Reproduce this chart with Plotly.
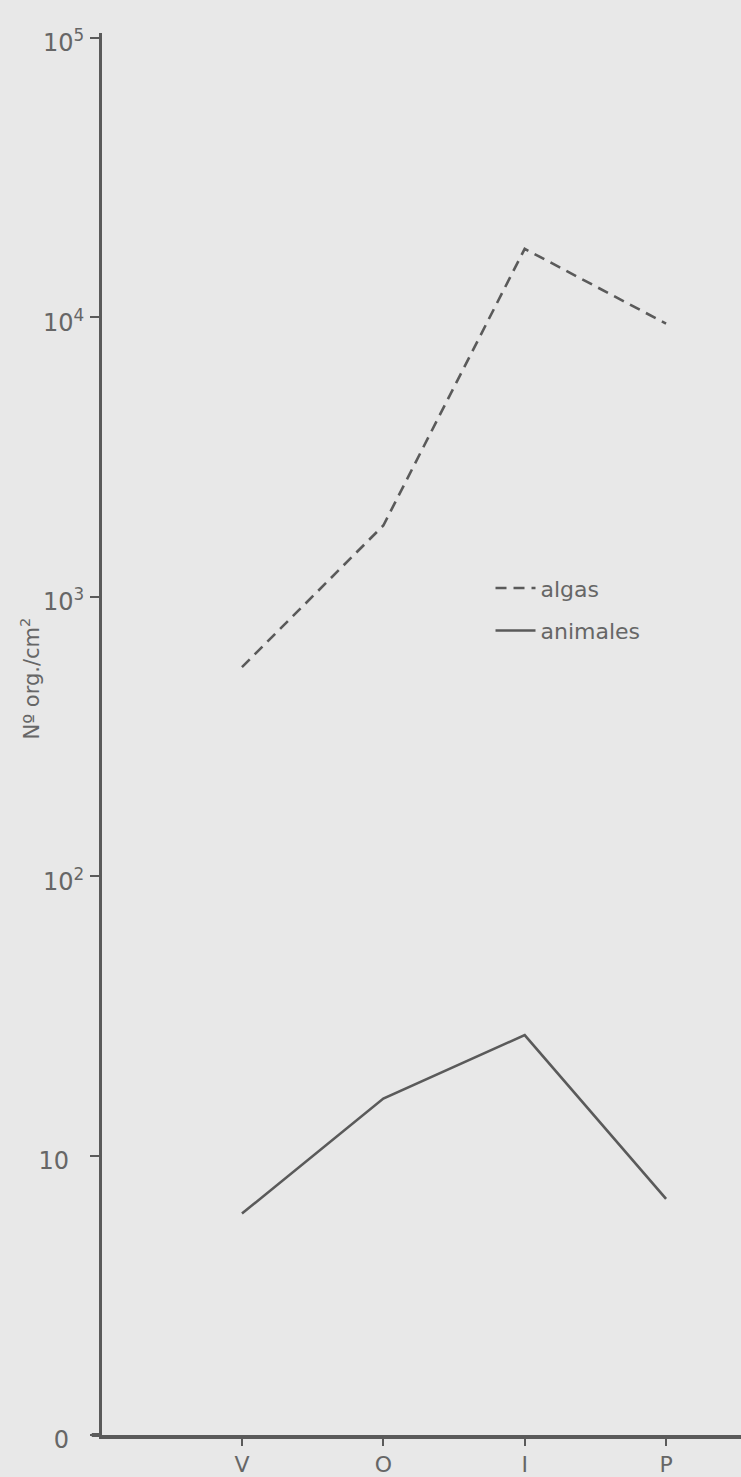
import plotly.graph_objects as go

categories = ["V", "O", "I", "P"]
x_pos = [0, 1, 2, 3]
algas = [560, 1800, 17600, 9500]
animales = [6.2, 16, 27, 7.0]

y_tickvals = [1, 10, 100, 1000, 10000, 100000]
y_ticktext = ["0\u00a0\u00a0", "10\u00a0\u00a0", "10<sup>2</sup>", "10<sup>3</sup>", "10<sup>4</sup>", "10<sup>5</sup>"]

ink = "#5a5a5a"
txt = "#666666"
bg = "#e8e8e8"
font_family = "DejaVu Sans, Lato, sans-serif"

fig = go.Figure()
fig.add_trace(go.Scatter(
    x=x_pos, y=algas, mode="lines", name="algas", legendgroup="g1",
    line=dict(color=ink, width=2.6, dash="11px,7px"),
))
fig.add_trace(go.Scatter(
    x=x_pos, y=animales, mode="lines", name="animales", legendgroup="g2",
    line=dict(color=ink, width=2.6),
))

fig.update_layout(
    width=741, height=1477,
    margin=dict(l=102, r=0, t=33, b=42),
    paper_bgcolor=bg, plot_bgcolor=bg,
    font=dict(family=font_family, color=txt, size=22),
    showlegend=True,
    legend=dict(
        x=0.608, y=0.619, xanchor="left", yanchor="top",
        bgcolor="rgba(0,0,0,0)", font=dict(size=22, color=txt),
        itemwidth=40, tracegroupgap=11, traceorder="grouped",
    ),
    xaxis=dict(
        range=[-0.99, 3.53], tickmode="array", tickvals=x_pos, ticktext=categories,
        showline=True, linecolor=ink, linewidth=4, ticks="outside", ticklen=7,
        tickwidth=2, tickcolor=ink, showgrid=False, zeroline=False,
        tickfont=dict(size=22, color=txt), fixedrange=True,
    ),
    yaxis=dict(
        type="log", range=[0, 5.018], tickmode="array", tickvals=y_tickvals,
        ticktext=y_ticktext, showline=True, linecolor=ink, linewidth=3,
        ticks="outside", ticklen=9, tickwidth=2, tickcolor=ink,
        showgrid=False, zeroline=False, tickfont=dict(size=24, color=txt),
        ticklabelstandoff=1, ticklabelshift=5,
    ),
    shapes=[dict(
        type="line", xref="paper", yref="paper", x0=-0.016, x1=0.0, y0=0, y1=0,
        line=dict(color=ink, width=4),
    )],
    annotations=[dict(
        text="N\u00ba org./cm<sup>2</sup>", xref="paper", yref="paper",
        x=-0.112, y=(1435 - 678) / 1402, textangle=-90, showarrow=False,
        font=dict(size=21, color=txt), xanchor="center", yanchor="middle",
    )],
)

fig.write_html("out.html", config={"displayModeBar": False})

# remove the browser's default page margin so the figure fills the window
with open("out.html", "r", encoding="utf-8") as f:
    html = f.read()
html = html.replace("<body>", '<body style="margin:0;padding:0;background:#e8e8e8;">', 1)
with open("out.html", "w", encoding="utf-8") as f:
    f.write(html)
